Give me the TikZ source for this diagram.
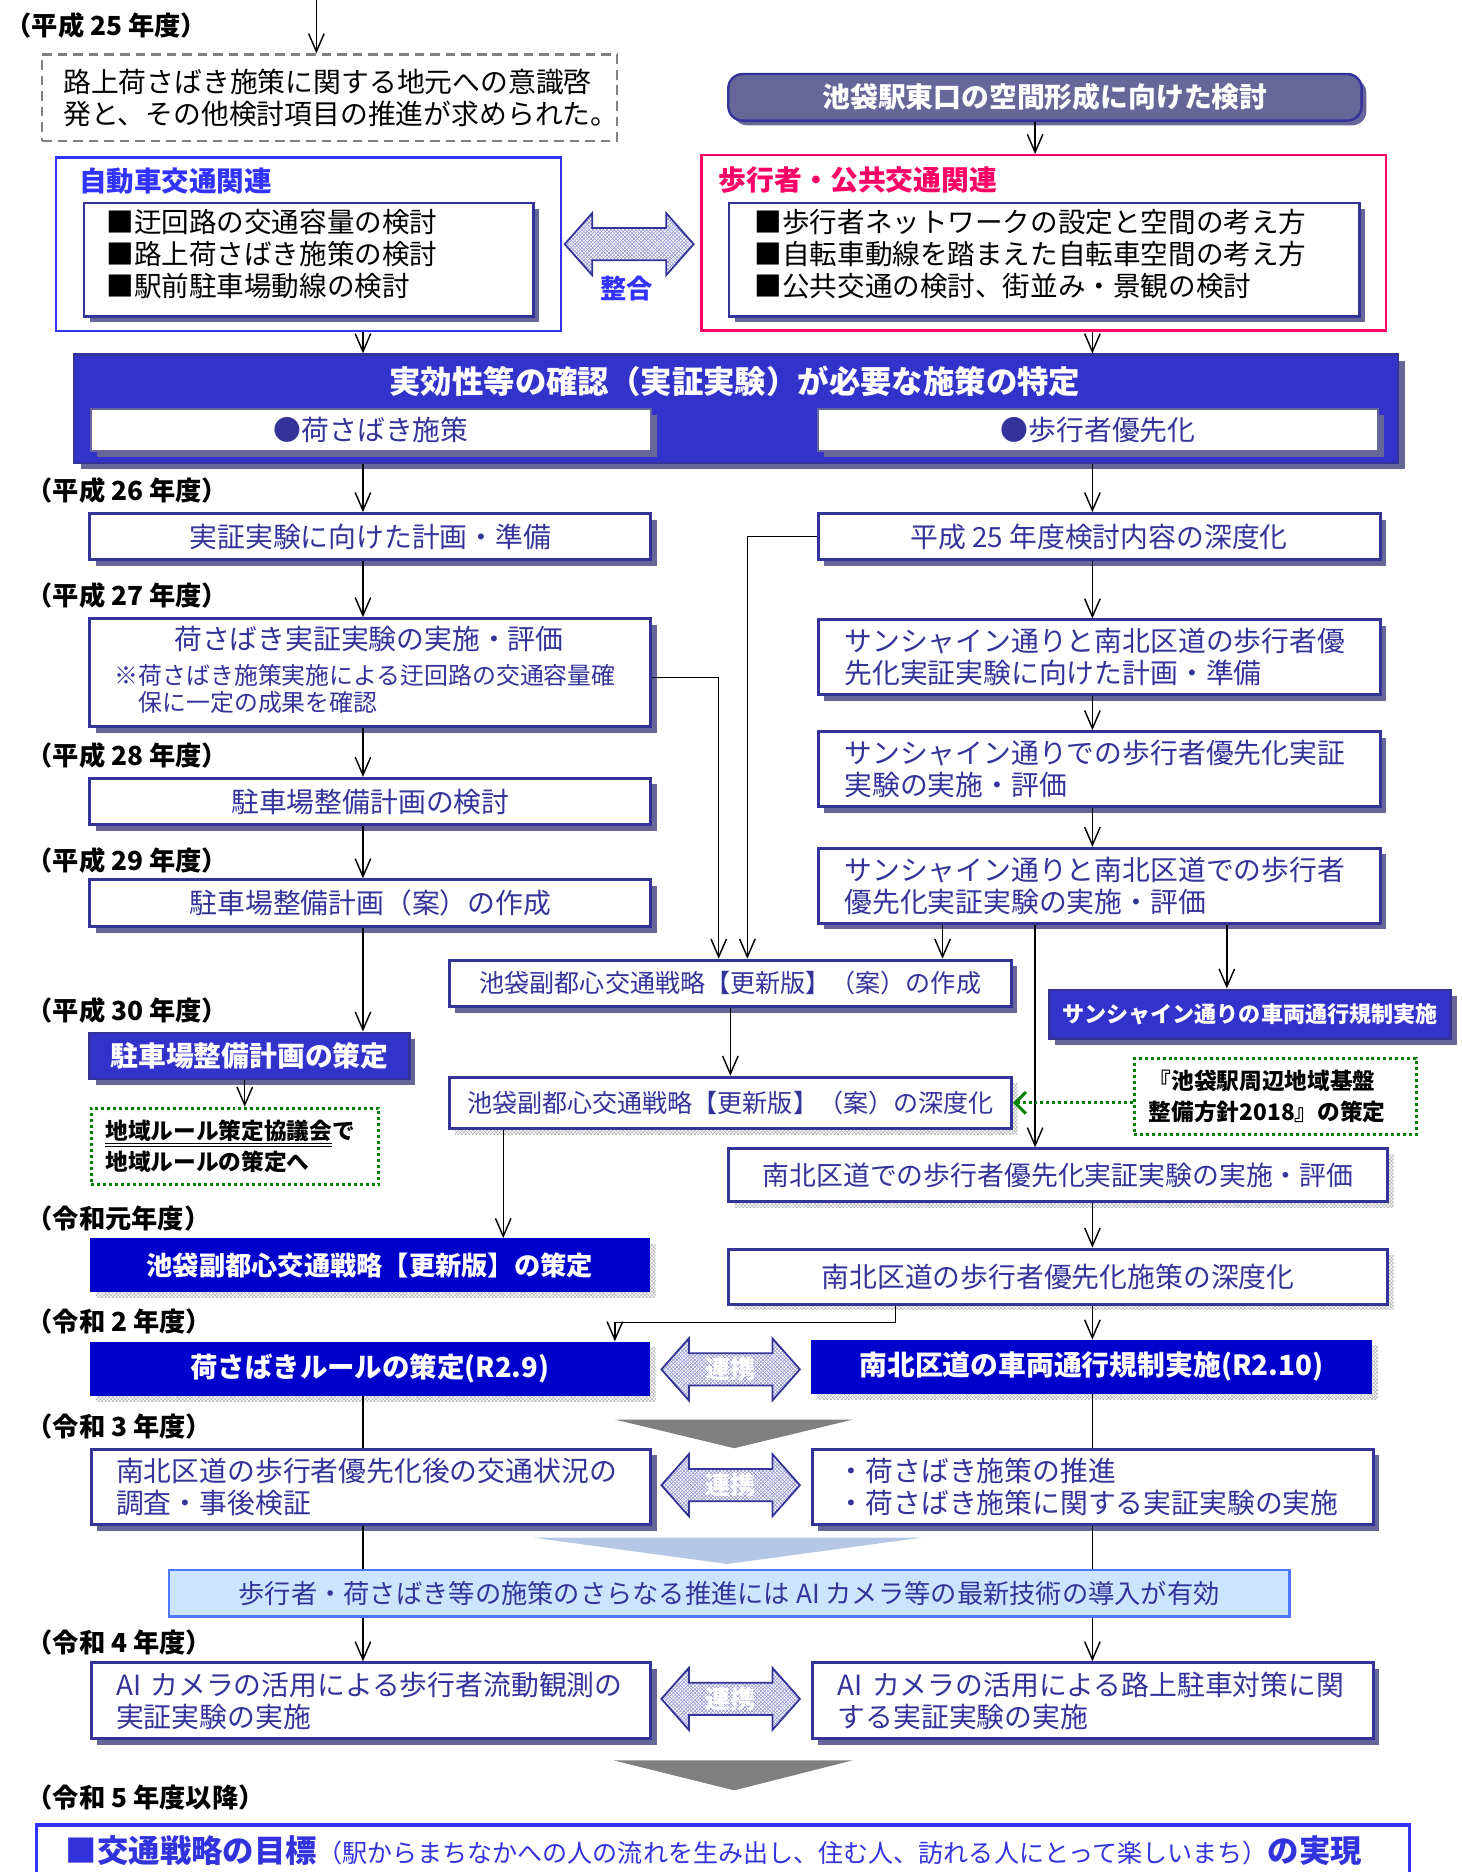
\documentclass[tikz,border=0pt]{standalone}
\usepackage{fontspec}
\setmainfont{Noto Sans CJK JP}
\usetikzlibrary{arrows.meta,shadows,patterns}
\definecolor{navy}{HTML}{333399}
\definecolor{slate}{HTML}{666699}
\definecolor{hdrblue}{HTML}{3333CC}
\definecolor{deepblue}{HTML}{0000CC}
\definecolor{brightblue}{HTML}{3333FF}
\definecolor{pinkred}{HTML}{FF0066}
\definecolor{dgreen}{HTML}{008000}
\definecolor{lbfill}{HTML}{CCE5FF}
\definecolor{lbborder}{HTML}{4D79FF}
\definecolor{lighttri}{HTML}{B4C7E7}
\definecolor{midgray}{HTML}{808080}
\definecolor{hatchc}{HTML}{8C8CCC}
\definecolor{goalc}{HTML}{3333DD}
\newcommand\fsz[2]{\fontsize{#1}{#2}\selectfont}
\newcommand\bx[7]{\node[#2,anchor=north west,minimum width={(#5)-(#3)},minimum height={(#6)-(#4)}] (#1) at (#3,#4) {#7};}
\newcommand\dblarr[5]{%
  \path[dafill] (#2,#4) -- (#2+23,#4-26) -- (#2+23,#4-13.5) -- (#3-23,#4-13.5) -- (#3-23,#4-26) -- (#3,#4)
     -- (#3-23,#4+26) -- (#3-23,#4+13.5) -- (#2+23,#4+13.5) -- (#2+23,#4+26) -- cycle;
  \node[dalabel] (#1) at ({(#2+#3)/2},#4) {#5};}
\tikzset{
  slsh/.style={drop shadow={shadow xshift=5pt, shadow yshift=-5pt, fill=slate, opacity=1}},
  hsh/.style={drop shadow={shadow xshift=5pt, shadow yshift=-5pt, pattern=crosshatch, pattern color=gray!60, opacity=1}},
  wbox/.style={draw=navy, line width=2.5pt, fill=white, text=navy, font=\fsz{23.3}{26.7}, inner sep=0pt, align=center},
  fillbox/.style={draw=navy, line width=2pt, fill=hdrblue, text=white, font=\bfseries\fsz{23.3}{26.7}, inner sep=0pt, align=center, slsh},
  deepbox/.style={fill=deepblue, text=white, font=\bfseries\fsz{22}{26}, inner sep=0pt, align=center, hsh},
  lab/.style={font=\bfseries\fsz{22}{26}, anchor=west, inner sep=0pt, text=black},
  itemtxt/.style={anchor=west, inner sep=0pt, text=black, font=\fsz{23.1}{26}},
  conn/.style={line width=1.2pt, draw=black},
  arr/.style={conn, -{Straight Barb[length=15pt,width=13pt,line width=1.2pt]}},
  garr/.style={draw=dgreen, line width=2.5pt, dash pattern=on 2.5pt off 2.5pt, -{Straight Barb[length=9pt,width=18pt,line width=2.5pt]}},
  gdot/.style={draw=dgreen, line width=2.5pt, dash pattern=on 2.5pt off 2.5pt, fill=white, text=black, font=\bfseries\fsz{19}{26}, align=left},
  dafill/.style={draw=navy, line width=1.5pt, preaction={fill=white}, preaction={pattern=north east lines, pattern color=hatchc}, pattern=north west lines, pattern color=hatchc},
  dalabel/.style={text=white, font=\bfseries\fsz{21}{24}, inner sep=0pt},
}
\begin{document}
\begin{tikzpicture}[x=1pt,y=-1pt]
\useasboundingbox (0,0) rectangle (1224,1568);
\clip (0,0) rectangle (1224,1568);

% ---- year labels
\node[lab] (L25) at (4.5,21) {（平成 25 年度）};
\node[lab] (L26) at (22,410.5) {（平成 26 年度）};
\node[lab] (L27) at (22,498.5) {（平成 27 年度）};
\node[lab] (L28) at (22,632.6) {（平成 28 年度）};
\node[lab] (L29) at (22,720.6) {（平成 29 年度）};
\node[lab] (L30) at (22,846) {（平成 30 年度）};
\node[lab] (LR1) at (22,1021) {（令和元年度）};
\node[lab] (LR2) at (22,1107) {（令和 2 年度）};
\node[lab] (LR3) at (22,1195) {（令和 3 年度）};
\node[lab] (LR4) at (22,1376) {（令和 4 年度）};
\node[lab] (LR5) at (22,1506) {（令和 5 年度以降）};

% ---- top section
\bx{dash}{draw=midgray, line width=2pt, dash pattern=on 8pt off 5pt, text=black, font=\fsz{23.3}{26.6}, align=left, text width=446pt, inner xsep=17pt, inner ysep=0pt}{34.3}{44.7}{515.6}{117.3}{路上荷さばき施策に関する地元への意識啓\\発と、その他検討項目の推進が求められた。}
\bx{purple}{draw=navy, line width=2pt, fill=slate, rounded corners=12pt, text=white, font=\bfseries\fsz{23.3}{26.7}, inner sep=0pt, drop shadow={shadow xshift=4pt, shadow yshift=-4pt, fill=slate, opacity=1}}{609}{61}{1139.5}{100}{池袋駅東口の空間形成に向けた検討}

\bx{blueo}{draw=brightblue, line width=2pt}{46}{131}{469}{276.5}{}
\node[anchor=west, inner sep=0pt, text=brightblue, font=\bfseries\fsz{23.1}{26}] (blueT) at (66,152) {自動車交通関連};
\bx{bluei}{draw=navy, line width=2pt, fill=white, inner sep=0pt, slsh}{69.4}{169}{445.8}{264}{}
\node[itemtxt] (bi1) at (89,186) {■迂回路の交通容量の検討};
\node[itemtxt] (bi2) at (89,212.5) {■路上荷さばき施策の検討};
\node[itemtxt] (bi3) at (89,239.5) {■駅前駐車場動線の検討};

\bx{redo}{draw=pinkred, line width=2pt}{586.5}{129}{1160}{275.7}{}
\node[anchor=west, inner sep=0pt, text=pinkred, font=\bfseries\fsz{23.3}{26}] (redT) at (602,151) {歩行者・公共交通関連};
\bx{redi}{draw=navy, line width=2pt, fill=white, inner sep=0pt, slsh}{609.7}{169}{1137.6}{264}{}
\node[itemtxt] (ri1) at (632,186) {■歩行者ネットワークの設定と空間の考え方};
\node[itemtxt] (ri2) at (632,212.5) {■自転車動線を踏まえた自転車空間の考え方};
\node[itemtxt] (ri3) at (632,239.5) {■公共交通の検討、街並み・景観の検討};

\dblarr{da1}{473}{581}{204.5}{}
\node[inner sep=0pt, text=brightblue, font=\bfseries\fsz{22}{24}] (seigo) at (525,242) {整合};

% ---- header box
\bx{big}{draw=navy, line width=2pt, fill=hdrblue, inner sep=0pt, drop shadow={shadow xshift=6pt, shadow yshift=-5pt, fill=slate, opacity=1}}{61}{296}{1170}{387}{}
\node[inner sep=0pt, text=white, font=\bfseries\fsz{26.3}{28}] (bigT) at (615.5,319.5) {実効性等の確認（実証実験）が必要な施策の特定};
\bx{bigL}{draw=slate, line width=1.5pt, fill=white, text=navy, font=\fsz{23.3}{26}, inner sep=0pt, slsh}{75.7}{342}{544.6}{377}{●荷さばき施策}
\bx{bigR}{draw=slate, line width=1.5pt, fill=white, text=navy, font=\fsz{23.3}{26}, inner sep=0pt, slsh}{684.6}{342}{1153.7}{377}{●歩行者優先化}

% ---- left column
\bx{b26}{wbox,slsh}{74}{429}{544}{467.6}{実証実験に向けた計画・準備}
\bx{b27}{wbox,slsh}{74}{517}{544}{607.4}{}
\node[inner sep=0pt, text=navy, font=\fsz{23.3}{26}] (b27T) at (309,535) {荷さばき実証実験の実施・評価};
\node[anchor=north west, inner sep=0pt, text=navy, font=\fsz{20}{22.5}, align=left] (b27N) at (96,556) {※荷さばき施策実施による迂回路の交通容量確\\\hspace*{1em}保に一定の成果を確認};
\bx{b28}{wbox,slsh}{74}{650.7}{544}{689.7}{駐車場整備計画の検討}
\bx{b29}{wbox,slsh}{74}{735.7}{544}{775}{駐車場整備計画（案）の作成}
\bx{b30}{fillbox}{74}{864}{342}{903}{駐車場整備計画の策定}
\bx{gr2}{gdot, text width=217pt, inner xsep=12pt, inner ysep=0pt}{75}{927}{316}{991}{\underline{\underline{地域ルール策定協議会}}で\\地域ルールの策定へ}
\bx{saku2}{deepbox}{75}{1037}{544}{1082}{池袋副都心交通戦略【更新版】の策定}
\bx{niR}{deepbox, font=\bfseries\fsz{23}{26}}{75}{1123.5}{544}{1169}{荷さばきルールの策定(R2.9)}
\bx{chosa}{wbox, slsh, align=left, text width=427pt, inner xsep=21pt}{75}{1212.5}{544}{1276}{南北区道の歩行者優先化後の交通状況の\\調査・事後検証}
\bx{lightb}{draw=lbborder, line width=2pt, fill=lbfill, text=navy, font=\fsz{22}{26}, inner sep=0pt}{140.5}{1314}{1079}{1353}{歩行者・荷さばき等の施策のさらなる推進には AI カメラ等の最新技術の導入が有効}
\bx{ai1}{wbox, slsh, align=left, text width=427pt, inner xsep=21pt}{75}{1391.5}{544}{1455}{AI~カメラの活用による歩行者流動観測の\\実証実験の実施}

% ---- right column
\bx{r1}{wbox,slsh}{684}{429}{1154.7}{467.6}{平成 25 年度検討内容の深度化}
\bx{r2}{wbox, slsh, align=left, text width=427pt, inner xsep=22pt}{684}{518}{1154.7}{580.8}{サンシャイン通りと南北区道の歩行者優\\先化実証実験に向けた計画・準備}
\bx{r3}{wbox, slsh, align=left, text width=427pt, inner xsep=22pt}{684}{611.6}{1154.7}{674.4}{サンシャイン通りでの歩行者優先化実証\\実験の実施・評価}
\bx{r4}{wbox, slsh, align=left, text width=427pt, inner xsep=22pt}{684}{709.3}{1154.7}{772}{サンシャイン通りと南北区道での歩行者\\優先化実証実験の実施・評価}
\bx{sakusei}{wbox, slsh, font=\fsz{21}{24}}{375}{803}{846}{842}{池袋副都心交通戦略【更新版】（案）の作成}
\bx{kisei}{fillbox, font=\bfseries\fsz{18.5}{22}}{878}{828}{1214}{869}{サンシャイン通りの車両通行規制実施}
\bx{shindo}{wbox, hsh, font=\fsz{21}{24}}{375}{901}{846}{944}{池袋副都心交通戦略【更新版】（案）の深度化}
\bx{gr1}{gdot, text width=212pt, inner xsep=12pt, inner ysep=0pt}{949}{885}{1185}{949}{『池袋駅周辺地域基盤\\整備方針2018』の策定}
\bx{nan1}{wbox, hsh, font=\fsz{22.5}{26}}{609}{961}{1161}{1005}{南北区道での歩行者優先化実証実験の実施・評価}
\bx{nan2}{wbox, hsh}{609}{1045}{1161}{1091}{南北区道の歩行者優先化施策の深度化}
\bx{kisei2}{deepbox, font=\bfseries\fsz{23.3}{26}}{679}{1122}{1149}{1167}{南北区道の車両通行規制実施(R2.10)}
\bx{suishin}{wbox, slsh, align=left, text width=427pt, inner xsep=21pt}{679}{1212.5}{1149}{1276}{・荷さばき施策の推進\\・荷さばき施策に関する実証実験の実施}
\bx{ai2}{wbox, slsh, align=left, text width=427pt, inner xsep=21pt}{679}{1391.5}{1149}{1455}{AI~カメラの活用による路上駐車対策に関\\する実証実験の実施}

% ---- double arrows and triangles
\dblarr{da2}{554}{670}{1147}{連携}
\dblarr{da3}{554}{670}{1244}{連携}
\dblarr{da4}{554}{670}{1423}{連携}
\fill[midgray] (515,1189) -- (714.5,1189) -- (615,1213) -- cycle;
\fill[lighttri] (447,1288) -- (771.5,1288) -- (609,1310) -- cycle;
\fill[midgray] (514,1474.5) -- (714,1474.5) -- (615,1499.6) -- cycle;

% ---- goal box
\bx{fin}{draw=brightblue, line width=3pt}{29}{1527}{1179}{1600}{}
\node[anchor=west, inner sep=0pt, text=goalc] (finT) at (55,1550) {{\bfseries\fsz{26.3}{30}■交通戦略の目標}{\fsz{21}{26}（駅からまちなかへの人の流れを生み出し、住む人、訪れる人にとって楽しいまち）}{\bfseries\fsz{26.3}{30}の実現}};

% ---- connectors
\coordinate (cTop) at (265,0);
\coordinate (cP) at (867,0);
\coordinate (cL) at (304,0);
\coordinate (cR) at (915,0);
\coordinate (c205) at (205,0);
\coordinate (c602) at (602,567.7);
\coordinate (c626) at (626,0);
\coordinate (c790) at (789.5,0);
\coordinate (c867) at (867,0);
\coordinate (c1028) at (1027.6,0);
\coordinate (c421) at (421.5,0);
\coordinate (c750) at (750,1107.5);
\coordinate (c515) at (515,1107.5);

\draw[arr] (cTop) -- (cTop |- dash.north);
\draw[arr] (cP |- purple.south) -- (cP |- redo.north);
\draw[arr] (cL |- blueo.south) -- (cL |- big.north);
\draw[arr] (cR |- redo.south) -- (cR |- big.north);
\draw[arr] (cL |- big.south) -- (cL |- b26.north);
\draw[arr] (cR |- big.south) -- (cR |- r1.north);
\draw[arr] (cL |- b26.south) -- (cL |- b27.north);
\draw[arr] (cL |- b27.south) -- (cL |- b28.north);
\draw[arr] (cL |- b28.south) -- (cL |- b29.north);
\draw[arr] (cL |- b29.south) -- (cL |- b30.north);
\draw[arr] (c205 |- b30.south) -- (c205 |- gr2.north);
\draw[arr] (b27.east |- c602) -- (c602) -- (c602 |- sakusei.north);
\draw[arr] (r1.west) -- (c626 |- r1.west) -- (c626 |- sakusei.north);
\draw[arr] (cR |- r1.south) -- (cR |- r2.north);
\draw[arr] (cR |- r2.south) -- (cR |- r3.north);
\draw[arr] (cR |- r3.south) -- (cR |- r4.north);
\draw[arr] (c790 |- r4.south) -- (c790 |- sakusei.north);
\draw[arr] (c867 |- r4.south) -- (c867 |- nan1.north);
\draw[arr] (c1028 |- r4.south) -- (c1028 |- kisei.north);
\draw[arr] (sakusei.south) -- (shindo.north);
\draw[garr] (gr1.west |- shindo.east) -- (shindo.east);
\draw[arr] (c421 |- shindo.south) -- (c421 |- saku2.north);
\draw[arr] (cR |- nan1.south) -- (cR |- nan2.north);
\draw[arr] (c750 |- nan2.south) -- (c750) -- (c515) -- (c515 |- niR.north);
\draw[arr] (cR |- nan2.south) -- (cR |- kisei2.north);
\draw[conn] (cL |- niR.south) -- (cL |- chosa.north);
\draw[conn] (cR |- kisei2.south) -- (cR |- suishin.north);
\draw[conn] (cL |- chosa.south) -- (cL |- lightb.north);
\draw[conn] (cR |- suishin.south) -- (cR |- lightb.north);
\draw[arr] (cL |- lightb.south) -- (cL |- ai1.north);
\draw[arr] (cR |- lightb.south) -- (cR |- ai2.north);
\end{tikzpicture}
\end{document}
